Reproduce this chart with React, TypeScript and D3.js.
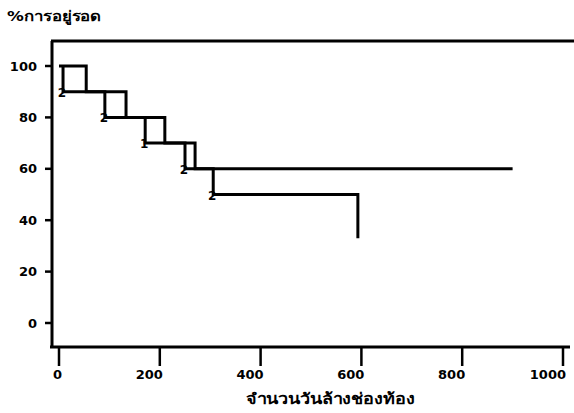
import React from "react";
import * as d3 from "d3";

// Survival curve, group A (upper step curve): time in days, percent surviving
const timesA = [0, 54, 133, 210, 270, 900];
const survA = [100, 90, 80, 70, 60, 60];

// Survival curve, group B (lower step curve)
const timesB = [8, 8, 91, 171, 250, 306, 593];
const survB = [100, 90, 80, 70, 60, 50, 33];

// Group markers printed at the foot of each drop in curve B
const markTimes = [8, 91, 171, 250, 306];
const markLevels = [90, 80, 70, 60, 50];
const markLabels = ["2", "2", "1", "2", "2"];

const xTicks = [0, 200, 400, 600, 800, 1000];
const yTicks = [0, 20, 40, 60, 80, 100];

const yTitle = "%การอยู่รอด";
const xTitle = "จำนวนวันล้างช่องท้อง";

const W = 574;
const H = 413;

export default function App() {
  const x = d3.scaleLinear().domain([0, 1000]).range([59, 563]);
  const y = d3.scaleLinear().domain([0, 100]).range([323, 66]);

  const line = d3
    .line<[number, number]>()
    .x((d) => x(d[0]))
    .y((d) => y(d[1]))
    .curve(d3.curveStepAfter);

  const ptsA = timesA.map((t, i) => [t, survA[i]] as [number, number]);
  const ptsB = timesB.map((t, i) => [t, survB[i]] as [number, number]);

  const axisLeft = 52;
  const axisTop = 41;
  const axisBottom = 347;
  const font = "'DejaVu Sans', 'Noto Sans', sans-serif";
  const ink = "#000";

  return (
    <svg
      width={W}
      height={H}
      viewBox={`0 0 ${W} ${H}`}
      style={{ position: "absolute", left: 0, top: 0, background: "#fff" }}
    >
      <rect width={W} height={H} fill="#fff" />

      {/* frame: left axis, top border, bottom axis */}
      <line x1={axisLeft} y1={axisTop} x2={axisLeft} y2={axisBottom} stroke={ink} strokeWidth={3} />
      <line x1={axisLeft - 1} y1={axisTop} x2={W} y2={axisTop} stroke={ink} strokeWidth={3} />
      <line x1={axisLeft - 2} y1={axisBottom} x2={570} y2={axisBottom} stroke={ink} strokeWidth={3} />

      {/* y ticks */}
      {yTicks.map((v) => (
        <g key={`y${v}`}>
          <line x1={45} x2={axisLeft} y1={y(v)} y2={y(v)} stroke={ink} strokeWidth={2.5} />
          <text
            x={37}
            y={y(v)}
            dy="0.36em"
            textAnchor="end"
            fontFamily={font}
            fontWeight="bold"
            fontSize={13}
            fill={ink}
          >
            {v}
          </text>
        </g>
      ))}

      {/* x ticks */}
      {xTicks.map((v) => (
        <g key={`x${v}`}>
          <line x1={x(v)} x2={x(v)} y1={axisBottom} y2={366} stroke={ink} strokeWidth={2.5} />
          <text
            x={x(v) + 3}
            y={379}
            textAnchor="end"
            fontFamily={font}
            fontWeight="bold"
            fontSize={13}
            fill={ink}
          >
            {v}
          </text>
        </g>
      ))}

      {/* survival curves */}
      <path d={line(ptsA) || ""} fill="none" stroke={ink} strokeWidth={3} strokeLinejoin="miter" />
      <path d={line(ptsB) || ""} fill="none" stroke={ink} strokeWidth={3} strokeLinejoin="miter" />

      {markTimes.map((t, i) => (
        <text
          key={`m${i}`}
          x={x(t) - 1}
          y={y(markLevels[i]) + 5}
          textAnchor="middle"
          fontFamily={font}
          fontWeight="bold"
          fontSize={12}
          fill={ink}
        >
          {markLabels[i]}
        </text>
      ))}

      {/* axis titles, set wide like the printer face */}
      <g transform="translate(7,21) scale(1.2,1)">
        <text x={0} y={0} fontFamily={font} fontWeight="bold" fontSize={14} fill={ink}>
          {yTitle}
        </text>
      </g>
      <g transform="translate(330,404) scale(1.2,1)">
        <text
          x={0}
          y={0}
          textAnchor="middle"
          fontFamily={font}
          fontWeight="bold"
          fontSize={15}
          fill={ink}
        >
          {xTitle}
        </text>
      </g>
    </svg>
  );
}
